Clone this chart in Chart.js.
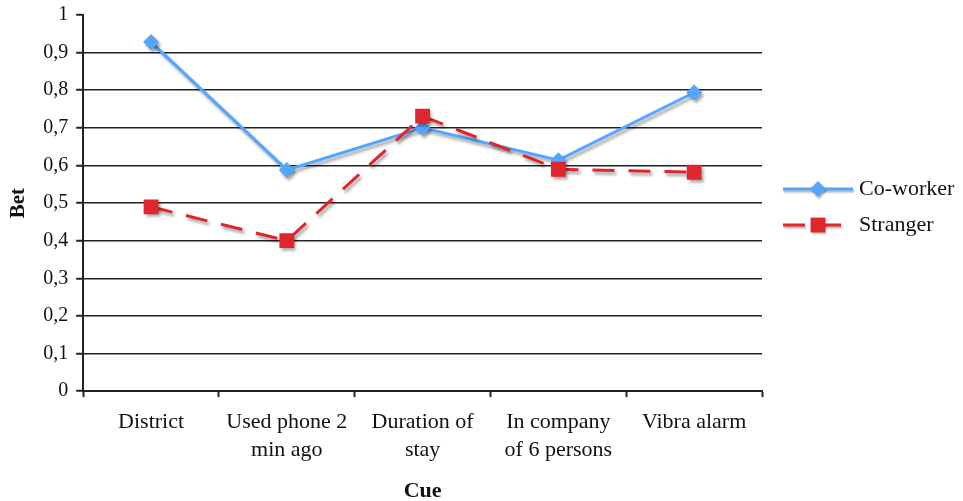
<!DOCTYPE html>
<html>
<head>
<meta charset="utf-8">
<script src="https://cdn.jsdelivr.net/npm/chart.js@4/dist/chart.umd.min.js"></script>
<style>
  html, body { margin: 0; padding: 0; background: #ffffff; }
  #wrap { width: 963px; height: 501px; position: relative; }
</style>
</head>
<body>
<div id="wrap"><canvas id="c" width="963" height="501"></canvas></div>
<script>
const categories = ['District', ['Used phone 2', 'min ago'], ['Duration of', 'stay'], ['In company', 'of 6 persons'], 'Vibra alarm'];
const seriesNames = ['Co-worker', 'Stranger'];
const coWorker = [0.928, 0.588, 0.70, 0.614, 0.794];
const stranger = [0.49, 0.40, 0.731, 0.59, 0.582];
const yTickLabels = ['0', '0,1', '0,2', '0,3', '0,4', '0,5', '0,6', '0,7', '0,8', '0,9', '1'];

const FONT = '"Liberation Serif", "Times New Roman", serif';
const BLUE = '#55a6ff';
const RED = '#e0262c';

const shadowPlugin = {
  id: 'shadow',
  beforeDatasetDraw(chart) {
    const ctx = chart.ctx;
    ctx.save();
    ctx.shadowColor = 'rgba(0,0,0,0.35)';
    ctx.shadowOffsetX = 2;
    ctx.shadowOffsetY = 3;
    ctx.shadowBlur = 3;
  },
  afterDatasetDraw(chart) {
    chart.ctx.restore();
  }
};

const legendPlugin = {
  id: 'customLegend',
  afterDraw(chart) {
    const ctx = chart.ctx;
    const x0 = chart.chartArea.right + 21;
    const lineLen = 70;
    const ys = [189, 225];
    chart.data.datasets.forEach((ds, i) => {
      const y = ys[i];
      ctx.save();
      ctx.shadowColor = 'rgba(0,0,0,0.3)';
      ctx.shadowOffsetX = 1;
      ctx.shadowOffsetY = 2;
      ctx.shadowBlur = 2;
      ctx.strokeStyle = ds.borderColor;
      ctx.lineWidth = ds.borderWidth;
      ctx.setLineDash(ds.borderDash || []);
      ctx.beginPath();
      ctx.moveTo(x0, y);
      ctx.lineTo(x0 + lineLen, y);
      ctx.stroke();
      ctx.setLineDash([]);
      const cx = x0 + lineLen / 2;
      ctx.fillStyle = ds.pointBackgroundColor;
      ctx.beginPath();
      if (ds.pointStyle === 'rectRot') {
        const r = ds.pointRadius;
        ctx.moveTo(cx, y - r); ctx.lineTo(cx + r, y); ctx.lineTo(cx, y + r); ctx.lineTo(cx - r, y);
      } else {
        const h = ds.pointRadius * Math.SQRT1_2;
        ctx.rect(cx - h, y - h, 2 * h, 2 * h);
      }
      ctx.closePath();
      ctx.fill();
      ctx.restore();
      ctx.save();
      ctx.fillStyle = '#111';
      ctx.font = '22px ' + FONT;
      ctx.textAlign = 'left';
      ctx.textBaseline = 'middle';
      ctx.fillText(ds.label, x0 + lineLen + 6, y);
      ctx.restore();
    });
  }
};

new Chart(document.getElementById('c'), {
  type: 'line',
  data: {
    labels: categories,
    datasets: [
      {
        label: seriesNames[0],
        data: coWorker,
        borderColor: BLUE,
        backgroundColor: BLUE,
        pointBackgroundColor: BLUE,
        pointBorderColor: BLUE,
        borderWidth: 3,
        pointStyle: 'rectRot',
        pointRadius: 8,
        pointBorderWidth: 0,
        tension: 0,
        order: 1
      },
      {
        label: seriesNames[1],
        data: stranger,
        borderColor: RED,
        backgroundColor: RED,
        pointBackgroundColor: RED,
        pointBorderColor: RED,
        borderWidth: 3,
        borderDash: [22, 14],
        pointStyle: 'rect',
        pointRadius: 10.5,
        pointBorderWidth: 0,
        tension: 0,
        order: 0
      }
    ]
  },
  options: {
    responsive: false,
    animation: false,
    layout: { padding: { top: 15, right: 201, left: 6, bottom: 0 } },
    plugins: {
      legend: { display: false },
      tooltip: { enabled: false }
    },
    scales: {
      x: {
        offset: true,
        grid: {
          offset: true,
          drawOnChartArea: false,
          drawTicks: true,
          tickLength: 6,
          tickColor: '#222',
          tickWidth: 2
        },
        border: { display: true, color: '#222', width: 2 },
        ticks: {
          color: '#111',
          font: { family: FONT, size: 22, lineHeight: 1.27 },
          padding: 11,
          maxRotation: 0,
          autoSkip: false
        },
        title: {
          display: true,
          text: 'Cue',
          color: '#111',
          font: { family: FONT, size: 22, weight: 'bold', lineHeight: 1.0 },
          padding: { top: 5, bottom: -1 }
        }
      },
      y: {
        min: 0,
        max: 1,
        grid: {
          color: (c) => (c.tick && c.tick.value >= 1 ? 'rgba(0,0,0,0)' : '#222'),
          lineWidth: 1.5,
          tickColor: '#222',
          tickLength: 7,
          tickWidth: 2
        },
        border: { display: true, color: '#222', width: 2 },
        ticks: {
          stepSize: 0.1,
          color: '#111',
          font: { family: FONT, size: 20, lineHeight: 0.6 },
          padding: 8,
          callback: (v, i) => yTickLabels[i]
        },
        title: {
          display: true,
          text: 'Bet',
          color: '#111',
          font: { family: FONT, size: 21, weight: 'bold' },
          padding: { top: 0, bottom: 4 }
        }
      }
    }
  },
  plugins: [shadowPlugin, legendPlugin]
});
</script>
</body>
</html>
